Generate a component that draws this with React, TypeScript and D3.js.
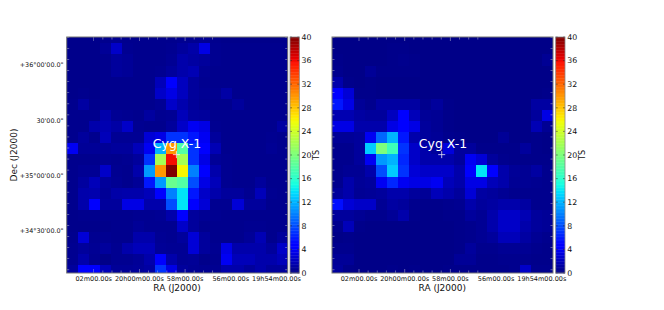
import React from "react";
import * as d3 from "d3";

const valuesLeft: number[][] = [
  [.4,.4,.4,.5,.6,.5,.5,.5,.5,.5,.6,.6,.7,.5,.4,.4,.4,.4,.4,.4],
  [.4,.4,.4,.8,2.5,.6,.5,.5,.5,.6,1,1.4,3.5,.6,.5,.5,.5,.5,.5,.5],
  [.4,.4,.4,.5,1,.8,.5,.5,.5,.7,1.5,1.2,1,.6,.5,.5,.5,.5,.5,.5],
  [.4,.4,.4,.5,1,.8,.5,.5,.6,1,1.5,1.8,.7,.5,.5,.5,.5,.5,.5,.5],
  [.4,.4,.4,.5,.5,.5,.5,.5,2,4.5,2.2,1,.6,.5,.5,.5,.5,.5,.5,.5],
  [.4,.5,.4,.5,.5,.5,.5,.5,2.5,3.5,2.2,1,.7,.6,1.3,.5,.5,.5,.5,.5],
  [.5,1.2,.5,.5,.5,.5,.5,.5,.7,2.5,1.6,.9,.6,.5,.5,1,.5,.5,.5,.5],
  [.5,.5,.5,1.5,.7,.6,.5,1.1,.6,.7,2,1.1,1,.5,.5,.5,.5,.5,.5,.5],
  [.5,.5,1.5,1.7,1.3,2.5,.6,.5,.5,1,2.5,4,3.5,.6,.5,.5,.5,.5,.5,1.2],
  [.5,1,.5,2,.7,.7,.7,3,3.5,7,7,6,4,1,.5,.5,.5,.5,.6,.5],
  [4,.8,.8,.8,1,1,2,4,12,30,18,7,5,1.8,.5,.5,.5,.5,.7,.5],
  [.5,.5,.5,.6,.5,.6,1,7,22,36,22,7,3.5,.8,.6,.5,.5,.5,.5,.5],
  [.5,.7,.7,2.5,.6,.5,1.5,11,30,40,26,10,4.5,1.5,.6,.5,.5,.5,.5,.5],
  [.5,1.1,2,1,.7,.5,.8,6,11,19,18,8,3.5,2,.6,.5,.5,1,.5,.5],
  [.5,1.5,1.6,.8,1.4,1.5,1.5,2,5,10,14,6,2.5,1.5,1,1,.6,2,.6,.5],
  [.5,1.5,5,1,1,3.5,3.5,1.5,1.5,8,14,4.5,3,.6,.6,3,1,1,.5,.5],
  [.4,.5,.5,.5,.5,.5,.6,.6,.7,1.5,5,1,.7,.6,.5,.5,.5,.5,.5,.5],
  [.4,.4,.4,.4,.5,.5,.8,.6,.6,.6,2.5,1,.5,.5,.5,.5,.6,.6,.5,.5],
  [.5,3,.6,.6,.5,.5,1.5,1.5,.7,.6,1,3,1,.5,.5,.5,.8,1.8,.5,1],
  [.6,1,.7,1,.6,1.5,2,2,.8,.7,.7,3,1,.6,3.5,1.5,1.5,1.5,1,2.5],
  [.6,1.5,.6,.3,.6,.6,.8,1.5,4.5,1.5,.7,.8,.4,.5,4,2,2,1.5,1.5,2],
  [1,5,5,2,.8,.8,.9,1.2,7,3.5,1,.7,.6,.6,1.5,1.5,1,1.5,1,1],
];

const valuesRight: number[][] = [
  [.3,.3,.3,.3,.3,.3,.3,.3,.3,.3,.3,.3,.3,.3,.3,.3,.3,.3,.3,.3],
  [.3,.3,.3,.3,.3,.4,.4,.3,.3,.3,.3,.3,.3,.3,.3,.3,.3,.3,.3,.3],
  [.4,.3,.3,.3,.3,.4,.5,.4,.3,.3,.3,.3,.3,.3,.3,.3,.3,.3,.3,.7],
  [.5,.3,.3,.8,.4,.4,.4,.4,.3,.3,.3,.3,.3,.3,.3,.3,.3,.3,.3,.3],
  [1.5,.4,.3,.4,.3,.3,.3,.3,.3,.3,.3,.3,.3,.3,.3,.3,.3,.3,.3,.3],
  [5,3,.4,.4,.3,.3,.3,.3,.3,.3,.3,.3,.3,.3,.3,.3,.3,.3,.3,.4],
  [6,3.5,.8,.5,1.2,1.2,1.2,1.2,.5,1,.4,.3,.3,.3,.3,.3,.3,.3,1.2,1.2],
  [1.7,1.7,1.2,1,1,2.2,4.5,2,.8,.7,.4,.3,.3,.3,.3,.3,.3,.3,1,3.5],
  [3.5,3.5,1.5,1.5,1.5,3.5,5,3.5,1,.7,.4,.3,.3,.3,.3,.3,.3,.3,1.8,.7],
  [.8,.8,1,4,9,12,6,1.5,1,.8,.5,.4,.3,.3,.3,.8,.3,.3,.4,.3],
  [.5,.5,1,13,20,17,7,2.5,1.5,1,3.2,1,1,.4,.4,.4,.4,1,.4,.3],
  [.5,.5,1,4,11,12,6.5,2.5,1.5,1.5,1.5,1,4,3,1,.5,.4,.4,.4,.4],
  [.5,.7,.7,1.5,8,13,7,3,2.5,2.5,2.5,1.5,5,14,5,1.5,.8,.7,1.2,.5],
  [.5,1.5,.8,1,4,6.5,4,3.5,3.5,4,2,1.5,3.5,3.5,2,1.5,.7,.7,.6,.5],
  [1,1.5,.7,.8,1,1.5,1.5,1,.8,2,1.5,1,3,1.2,1,.7,.5,.5,.5,.5],
  [5.5,3,2.5,2.5,.7,1.2,1,.5,.4,.4,.5,.6,1.5,1,1.2,1.5,1.5,1.2,.5,.5],
  [1,1,.7,.5,.5,.8,1.5,.4,.3,.3,.4,.4,1,.7,1.5,2.5,2.5,1.8,1,.8],
  [.5,2,.4,.3,.3,.3,.3,.3,.3,.3,.3,.4,.5,.7,1.5,2.5,2.5,1.5,1,.8],
  [.3,.4,.3,.3,.3,.3,.3,.3,.3,.3,.3,.4,.5,.7,1,2,2,1.2,.7,.5],
  [.5,.5,.3,.3,.3,.3,.3,.3,.3,.3,.3,.4,1,.5,.5,.7,.7,.7,.5,.4],
  [.8,.8,.3,.3,.3,.3,.3,.3,.3,.3,.3,.8,.8,.4,.4,.5,.5,.5,.4,.4],
  [1,.4,.3,.3,.3,.4,.3,.4,.3,.3,.4,.4,.4,.4,.4,.4,.5,2.5,.5,.5],
];

const raMinutes = [2, 0, -2, -4, -6];
const raLabels = ["02m00.00s", "20h00m00.00s", "58m00.00s", "56m00.00s", "19h54m00.00s"];
const decDegrees = [36, 35.5, 35, 34.5];
const decLabels = ["+36°00'00.0\"", "30'00.0\"", "+35°00'00.0\"", "+34°30'00.0\""];
const colorbarTicks = [0, 4, 8, 12, 16, 20, 24, 28, 32, 36, 40];
const targetLabel = "Cyg X-1";
const targetPosition = { ra: -1.62, dec: 35.19 };

const FONT = "'DejaVu Sans', sans-serif";
const AX = { left: 66.7, right: 287.7, top: 37, bottom: 273 };
const NCOL = 20;

const jetR = d3.scaleLinear().domain([0, .35, .66, .89, 1]).range([0, 0, 1, 1, .5]);
const jetG = d3.scaleLinear().domain([0, .125, .375, .64, .91, 1]).range([0, 0, 1, 1, 0, 0]);
const jetB = d3.scaleLinear().domain([0, .11, .34, .65, 1]).range([.5, 1, 1, 0, 0]);
const tsNorm = d3.scaleLinear().domain([0, 40]).range([0, 1]).clamp(true);
const jet = (v: number) => {
  const t = tsNorm(v);
  return d3.rgb(jetR(t) * 255, jetG(t) * 255, jetB(t) * 255).formatRgb();
};

const colX = d3.scaleLinear().domain([0, NCOL]).range([AX.left, AX.right]);
const rowY = d3.scaleLinear().domain([1, 21]).range([43.3, 265.3]);
const raX = d3.scaleLinear().domain([2, -6]).range([93.7, 276.5]);
const decY = d3.scaleLinear().domain([36, 34.5]).range([65, 231]);
const barY = d3.scaleLinear().domain([0, 40]).range([AX.bottom, AX.top]);

const minorRa = d3.range(-8, 6).map((k) => k * 0.4);
const minorDec = d3.range(0, 22).map((k) => 36.25 - k * 0.1);
const barSteps = d3.range(0, 40, 0.25);

function Panel({ values, dx, barDx, tsX, showY, labelX }: {
  values: number[][]; dx: number; barDx: number; tsX: number; showY: boolean; labelX: number;
}) {
  const clipId = `clip-${dx}`;
  const tx = raX(targetPosition.ra);
  const ty = decY(targetPosition.dec);
  const BX = 290;
  const BW = 9.3;
  return (
    <g>
      <g transform={`translate(${dx},0)`}>
        <clipPath id={clipId}>
          <rect x={AX.left} y={AX.top} width={AX.right - AX.left} height={AX.bottom - AX.top} />
        </clipPath>
        <g clipPath={`url(#${clipId})`}>
          <rect x={AX.left - 3} y={AX.top - 3} width={AX.right - AX.left + 6} height={AX.bottom - AX.top + 6} fill={jet(0.4)} />
          <g filter="url(#soft)">
            {values.map((row, r) =>
              row.map((v, c) => (
                <rect key={`${r}-${c}`} x={Math.round(colX(c) + dx) - dx} y={Math.round(rowY(r))}
                  width={Math.round(colX(c + 1) + dx) - Math.round(colX(c) + dx)}
                  height={Math.round(rowY(r + 1)) - Math.round(rowY(r))} fill={jet(v)} shapeRendering="crispEdges" />
              ))
            )}
          </g>
        </g>
        {minorRa.filter((m) => raX(m) > AX.left && raX(m) < AX.right).map((m) => {
          const major = raMinutes.some((t) => Math.abs(t - m) < 1e-6);
          const l = major ? 4 : 2.5;
          return (
            <g key={m} stroke="#c8c8d8" strokeWidth={0.6} opacity={0.8}>
              <line x1={raX(m)} x2={raX(m)} y1={AX.bottom} y2={AX.bottom - l} />
              <line x1={raX(m)} x2={raX(m)} y1={AX.top} y2={AX.top + l} />
            </g>
          );
        })}
        {minorDec.filter((d) => decY(d) > AX.top && decY(d) < AX.bottom).map((d) => {
          const major = decDegrees.some((t) => Math.abs(t - d) < 1e-6);
          const l = major ? 4 : 2.5;
          return (
            <g key={d} stroke="#c8c8d8" strokeWidth={0.6} opacity={0.8}>
              <line x1={AX.left} x2={AX.left + l} y1={decY(d)} y2={decY(d)} />
              <line x1={AX.right} x2={AX.right - l} y1={decY(d)} y2={decY(d)} />
            </g>
          );
        })}
        <rect x={AX.left} y={AX.top} width={AX.right - AX.left} height={AX.bottom - AX.top}
          fill="none" stroke="#777" strokeWidth={1} />
        <g stroke="#fff" strokeWidth={0.8} opacity={0.9}>
          <line x1={tx - 3.5} x2={tx + 3.5} y1={ty} y2={ty} />
          <line x1={tx} x2={tx} y1={ty - 3.5} y2={ty + 3.5} />
        </g>
        <text x={labelX} y={148} fontFamily={FONT} fontSize={12.5} fill="#fff" textAnchor="middle">{targetLabel}</text>
        {raMinutes.map((m, i) => (
          <text key={m} x={raX(m)} y={281} fontFamily={FONT} fontSize={6.5} fill="#111" textAnchor="middle">{raLabels[i]}</text>
        ))}
        <text x={177} y={291} fontFamily={FONT} fontSize={9} fill="#111" textAnchor="middle">RA (J2000)</text>
      </g>
      {showY && decDegrees.map((d, i) => (
        <text key={d} x={63.5} y={decY(d) + 2.2} fontFamily={FONT} fontSize={6.4} fill="#111" textAnchor="end">{decLabels[i]}</text>
      ))}
      {showY && (
        <text transform="translate(17,155) rotate(-90)" fontFamily={FONT} fontSize={9} fill="#111" textAnchor="middle">Dec (J2000)</text>
      )}
      <g transform={`translate(${barDx},0)`}>
        {barSteps.map((v) => (
          <rect key={v} x={BX} y={barY(v + 0.25)} width={BW} height={barY(v) - barY(v + 0.25) + 0.4} fill={jet(v + 0.125)} />
        ))}
        {colorbarTicks.map((t) => (
          <g key={t}>
            <line x1={BX} x2={BX + 2} y1={barY(t)} y2={barY(t)} stroke="#222" strokeWidth={0.5} />
            <line x1={BX + BW} x2={BX + BW - 2} y1={barY(t)} y2={barY(t)} stroke="#222" strokeWidth={0.5} />
            <text x={BX + 11.5} y={barY(t) + 2.8} fontFamily={FONT} fontSize={7.8} fill="#111">{t}</text>
          </g>
        ))}
        <rect x={BX} y={AX.top} width={BW} height={AX.bottom - AX.top} fill="none" stroke="#888" strokeWidth={0.8} />
      </g>
      <text transform={`translate(${tsX},155) rotate(-90)`} fontFamily={FONT} fontSize={8} fill="#111" textAnchor="middle">TS</text>
    </g>
  );
}

export default function App() {
  return (
    <svg width={664} height={310} style={{ position: "absolute", left: 0, top: 0, background: "#fff" }}>
      <defs>
        <filter id="soft" x="-2%" y="-2%" width="104%" height="104%">
          <feGaussianBlur stdDeviation={0.45} />
        </filter>
      </defs>
      <Panel values={valuesLeft} dx={0} barDx={0} tsX={319} showY labelX={177} />
      <Panel values={valuesRight} dx={265.3} barDx={265.7} tsX={585} showY={false} labelX={177.7} />
    </svg>
  );
}
